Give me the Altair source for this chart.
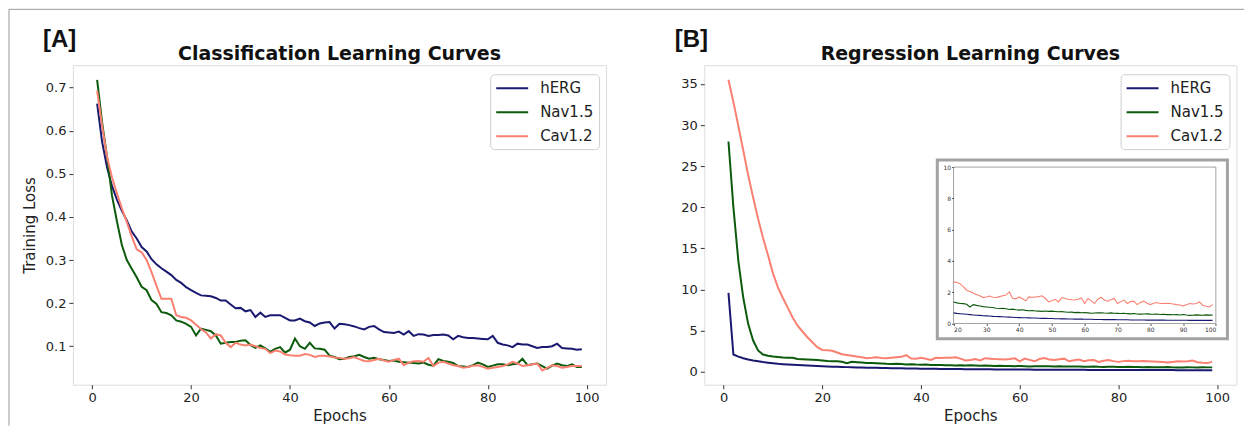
import altair as alt
import pandas as pd

# ---------------- data ----------------
epochs = list(range(1, 100))
series_names = ["hERG", "Nav1.5", "Cav1.2"]

cls_herg = [0.663, 0.575, 0.515, 0.472, 0.440, 0.414, 0.392, 0.366, 0.350, 0.330,
            0.320, 0.302, 0.290, 0.281, 0.273, 0.265, 0.254, 0.247, 0.237, 0.230,
            0.224, 0.218, 0.217, 0.216, 0.212, 0.206, 0.206, 0.197, 0.188, 0.189,
            0.181, 0.184, 0.168, 0.178, 0.168, 0.172, 0.172, 0.172, 0.166, 0.160,
            0.160, 0.164, 0.158, 0.155, 0.147, 0.153, 0.155, 0.156, 0.141, 0.152,
            0.151, 0.149, 0.146, 0.142, 0.139, 0.145, 0.147, 0.139, 0.133, 0.132,
            0.131, 0.134, 0.127, 0.135, 0.124, 0.128, 0.127, 0.124, 0.126, 0.126,
            0.127, 0.125, 0.116, 0.124, 0.121, 0.119, 0.119, 0.118, 0.117, 0.116,
            0.124, 0.108, 0.104, 0.102, 0.098, 0.106, 0.104, 0.104, 0.100, 0.096,
            0.098, 0.098, 0.100, 0.106, 0.096, 0.095, 0.094, 0.092, 0.093]
cls_nav = [0.718, 0.620, 0.540, 0.450, 0.390, 0.335, 0.300, 0.280, 0.260, 0.238,
           0.230, 0.207, 0.198, 0.179, 0.177, 0.172, 0.160, 0.157, 0.152, 0.145,
           0.125, 0.141, 0.138, 0.135, 0.125, 0.106, 0.108, 0.110, 0.110, 0.113,
           0.114, 0.103, 0.096, 0.102, 0.095, 0.087, 0.094, 0.098, 0.085, 0.092,
           0.118, 0.100, 0.094, 0.108, 0.095, 0.094, 0.092, 0.078, 0.075, 0.070,
           0.071, 0.075, 0.077, 0.080, 0.075, 0.071, 0.073, 0.070, 0.068, 0.066,
           0.067, 0.064, 0.063, 0.062, 0.061, 0.060, 0.062, 0.057, 0.055, 0.070,
           0.066, 0.064, 0.061, 0.054, 0.053, 0.052, 0.056, 0.062, 0.058, 0.052,
           0.055, 0.058, 0.058, 0.056, 0.058, 0.060, 0.071, 0.056, 0.058, 0.060,
           0.054, 0.048, 0.055, 0.060, 0.056, 0.054, 0.058, 0.052, 0.052]
cls_cav = [0.693, 0.612, 0.540, 0.492, 0.455, 0.420, 0.388, 0.355, 0.325, 0.318,
           0.300, 0.272, 0.240, 0.210, 0.210, 0.210, 0.172, 0.168, 0.166, 0.160,
           0.150, 0.140, 0.132, 0.118, 0.128, 0.125, 0.108, 0.098, 0.108, 0.104,
           0.102, 0.104, 0.100, 0.096, 0.094, 0.084, 0.090, 0.088, 0.081, 0.079,
           0.078, 0.078, 0.082, 0.080, 0.075, 0.078, 0.078, 0.076, 0.074, 0.073,
           0.071, 0.072, 0.075, 0.070, 0.066, 0.065, 0.068, 0.071, 0.067, 0.064,
           0.068, 0.071, 0.056, 0.062, 0.065, 0.066, 0.064, 0.073, 0.054, 0.062,
           0.064, 0.060, 0.056, 0.054, 0.050, 0.052, 0.055, 0.056, 0.052, 0.048,
           0.050, 0.052, 0.054, 0.058, 0.064, 0.060, 0.054, 0.056, 0.058, 0.060,
           0.044, 0.050, 0.056, 0.054, 0.050, 0.052, 0.054, 0.054, 0.054]

reg_herg = [9.6, 2.1, 1.85, 1.65, 1.5, 1.38, 1.28, 1.18, 1.1, 1.03,
            0.97, 0.93, 0.89, 0.85, 0.82, 0.79, 0.76, 0.74, 0.72, 0.68,
            0.65, 0.63, 0.61, 0.59, 0.57, 0.55, 0.53, 0.52, 0.50, 0.49,
            0.48, 0.46, 0.45, 0.44, 0.43, 0.42, 0.41, 0.40, 0.39, 0.38,
            0.37, 0.37, 0.36, 0.35, 0.35, 0.34, 0.33, 0.33, 0.32, 0.32,
            0.31, 0.31, 0.30, 0.30, 0.29, 0.29, 0.28, 0.28, 0.28, 0.27,
            0.27, 0.27, 0.26, 0.26, 0.26, 0.25, 0.25, 0.25, 0.25, 0.24,
            0.24, 0.24, 0.24, 0.23, 0.23, 0.23, 0.23, 0.23, 0.22, 0.22,
            0.22, 0.22, 0.22, 0.22, 0.21, 0.21, 0.21, 0.21, 0.21, 0.21,
            0.21, 0.20, 0.20, 0.20, 0.20, 0.20, 0.20, 0.20, 0.20]
reg_nav = [28.0, 20.0, 13.5, 9.0, 5.8, 3.8, 2.6, 2.1, 1.95, 1.85,
           1.8, 1.75, 1.72, 1.7, 1.55, 1.52, 1.5, 1.48, 1.45, 1.38,
           1.32, 1.28, 1.27, 1.23, 1.06, 1.21, 1.16, 1.12, 1.08, 1.06,
           1.04, 1.02, 0.98, 0.96, 0.97, 0.94, 0.90, 0.92, 0.88, 0.86,
           0.88, 0.84, 0.82, 0.83, 0.80, 0.79, 0.78, 0.80, 0.78, 0.79,
           0.77, 0.75, 0.76, 0.74, 0.72, 0.73, 0.70, 0.71, 0.69, 0.70,
           0.68, 0.66, 0.67, 0.68, 0.69, 0.67, 0.66, 0.68, 0.66, 0.65,
           0.64, 0.66, 0.63, 0.62, 0.64, 0.61, 0.60, 0.61, 0.62, 0.60,
           0.59, 0.61, 0.58, 0.59, 0.57, 0.58, 0.56, 0.57, 0.55, 0.58,
           0.54, 0.52, 0.53, 0.55, 0.54, 0.53, 0.55, 0.54, 0.54]
reg_cav = [35.5, 32.8, 29.9, 26.9, 23.9, 21.2, 18.6, 16.3, 14.2, 12.0,
           10.3, 9.0, 7.8, 6.6, 5.6, 4.9, 4.2, 3.6, 3.0, 2.66,
           2.62, 2.55, 2.35, 2.13, 2.05, 1.95, 1.85, 1.78, 1.66, 1.70,
           1.76, 1.68, 1.66, 1.72, 1.78, 1.82, 2.02, 1.62, 1.58, 1.70,
           1.58, 1.45, 1.70, 1.68, 1.70, 1.72, 1.77, 1.60, 1.38, 1.45,
           1.55, 1.38, 1.66, 1.60, 1.55, 1.52, 1.50, 1.55, 1.64, 1.28,
           1.60, 1.45, 1.28, 1.55, 1.68, 1.50, 1.43, 1.52, 1.60, 1.28,
           1.40, 1.50, 1.28, 1.40, 1.43, 1.21, 1.35, 1.43, 1.30, 1.21,
           1.30, 1.34, 1.28, 1.28, 1.30, 1.28, 1.25, 1.21, 1.18, 1.13,
           1.20, 1.28, 1.25, 1.28, 1.38, 1.17, 1.10, 1.06, 1.21]

x_ticks = [0, 20, 40, 60, 80, 100]
cls_y_ticks = [0.1, 0.2, 0.3, 0.4, 0.5, 0.6, 0.7]
reg_y_ticks = [0, 5, 10, 15, 20, 25, 30, 35]
inset_x_ticks = [20, 30, 40, 50, 60, 70, 80, 90, 100]
inset_y_ticks = [0, 2, 4, 6, 8, 10]
inset_start_epoch = 20
panel_letters = ["[A]", "[B]"]
panel_titles = ["Classification Learning Curves", "Regression Learning Curves"]
x_label = "Epochs"
y_label = "Training Loss"

# ---------------- styling ----------------
COLORS = {"hERG": "#191970", "Nav1.5": "#0c5a0c", "Cav1.2": "#fa8072"}
FONT = "DejaVu Sans"
W_A, W_B, H = 534, 533, 320
X_DOM = [-3.9, 103.9]
CLS_DOM = [0.0107, 0.752]
REG_DOM = [-1.57, 37.27]


def long_df(h, n, c):
    rows = []
    for name, vals in zip(series_names, [h, n, c]):
        for e, v in zip(epochs, vals):
            rows.append({"epoch": e, "loss": v, "series": name, "col": COLORS[name]})
    return pd.DataFrame(rows)


cls_df = long_df(cls_herg, cls_nav, cls_cav)
reg_df = long_df(reg_herg, reg_nav, reg_cav)
inset_df = reg_df[reg_df["epoch"] >= inset_start_epoch]

color_scale = alt.Scale(domain=series_names, range=[COLORS[s] for s in series_names])


def legend(x):
    return alt.Legend(
        title=None, orient="none", legendX=x, legendY=9,
        fillColor="white", strokeColor="#cfcfcf", cornerRadius=4, padding=5,
        symbolType="M-1,0H3", symbolSize=256, symbolStrokeWidth=2,
        labelFontSize=15, labelFont=FONT, labelColor="#222",
        labelOffset=27, rowPadding=7,
    )


def x_axis():
    return alt.Axis(values=x_ticks, title=x_label, grid=False, domain=False,
                    labelFontSize=13, labelFont=FONT, labelColor="#222",
                    tickColor="#333", tickSize=4, labelPadding=3,
                    titleFontSize=15, titleFont=FONT, titleFontWeight="normal",
                    titleColor="#222", titlePadding=4)


def text_layer(txt, x, y, size, font, align="left", baseline="middle"):
    return alt.Chart(pd.DataFrame({"t": [txt]})).mark_text(
        align=align, baseline=baseline, fontSize=size, font=font,
        fontWeight="bold", color="#111"
    ).encode(text="t:N", x=alt.value(x), y=alt.value(y))


# ---------------- panel A ----------------
lines_a = alt.Chart(cls_df).mark_line(strokeWidth=2, clip=True).encode(
    x=alt.X("epoch:Q", scale=alt.Scale(domain=X_DOM, nice=False, zero=False), axis=x_axis()),
    y=alt.Y("loss:Q", scale=alt.Scale(domain=CLS_DOM, nice=False, zero=False),
            axis=alt.Axis(values=cls_y_ticks, title=y_label, grid=False, domain=False,
                          format=".1f", labelFontSize=13, labelFont=FONT, labelColor="#222",
                          tickColor="#333", tickSize=4, labelPadding=3,
                          titleFontSize=15, titleFont=FONT, titleFontWeight="normal",
                          titleColor="#222", titlePadding=8)),
    color=alt.Color("series:N", scale=color_scale, sort=series_names, legend=legend(418)),
    detail="series:N",
)

border_df = pd.DataFrame({"k": [0]})
frame_top = alt.Chart(border_df).mark_rule(color="#9a9a9a", strokeWidth=1).encode(
    x=alt.value(-64), x2=alt.value(1173), y=alt.value(-56))
frame_left = alt.Chart(border_df).mark_rule(color="#9a9a9a", strokeWidth=1).encode(
    x=alt.value(-64), y=alt.value(-56), y2=alt.value(361))

panel_a = alt.layer(
    frame_top, frame_left, lines_a,
    text_layer(panel_letters[0], -30, -25, 24, "Liberation Sans"),
    text_layer(panel_titles[0], W_A / 2, -5.5, 19, FONT, align="center", baseline="alphabetic"),
).properties(width=W_A, height=H)

# ---------------- panel B ----------------
lines_b = alt.Chart(reg_df).mark_line(strokeWidth=2, clip=True).encode(
    x=alt.X("epoch:Q", scale=alt.Scale(domain=X_DOM, nice=False, zero=False), axis=x_axis()),
    y=alt.Y("loss:Q", scale=alt.Scale(domain=REG_DOM, nice=False, zero=False),
            axis=alt.Axis(values=reg_y_ticks, title=None, grid=False, domain=False,
                          labelFontSize=13, labelFont=FONT, labelColor="#222",
                          tickColor="#333", tickSize=4, labelPadding=3)),
    color=alt.Color("series:N", scale=color_scale, sort=series_names, legend=legend(417)),
    detail="series:N",
)

# inset geometry (pixels inside panel B)
IX0, IX1, IY0, IY1 = 249.7, 512.4, 102, 258.7
inset_box = alt.Chart(border_df).mark_rect(fill="white", stroke="#a3a3a3", strokeWidth=3).encode(
    x=alt.value(233.4), x2=alt.value(524), y=alt.value(95), y2=alt.value(274))

ix = alt.Scale(domain=[20, 100], range=[IX0, IX1], nice=False, zero=False)
iy = alt.Scale(domain=[0, 10], range=[IY1, IY0], nice=False, zero=False)
inset_frame = alt.Chart(border_df).mark_rect(fillOpacity=0, stroke="#8a8a8a", strokeWidth=0.8).encode(
    x=alt.datum(20, scale=ix), x2=alt.datum(100), y=alt.datum(0, scale=iy), y2=alt.datum(10))
inset_lines = alt.Chart(inset_df).mark_line(strokeWidth=1.1).encode(
    x=alt.X("epoch:Q", scale=ix,
            axis=alt.Axis(orient="bottom", offset=-(H - IY1), values=inset_x_ticks, title=None,
                          grid=False, domain=False, labelFontSize=6, labelFont=FONT,
                          labelColor="#333", tickSize=2, tickColor="#555", labelPadding=1,
                          zindex=2)),
    y=alt.Y("loss:Q", scale=iy,
            axis=alt.Axis(orient="left", offset=-IX0, values=inset_y_ticks, title=None,
                          grid=False, domain=False, labelFontSize=6, labelFont=FONT,
                          labelColor="#333", tickSize=2, tickColor="#555", labelPadding=1,
                          zindex=2)),
    stroke=alt.Stroke("col:N", scale=None),
    detail="series:N",
)
inset = alt.layer(inset_frame, inset_lines)

panel_b = alt.layer(
    lines_b, inset_box, inset,
    text_layer(panel_letters[1], -29.5, -25, 24, "Liberation Sans"),
    text_layer(panel_titles[1], W_B / 2, -5.5, 19, FONT, align="center", baseline="alphabetic"),
).resolve_scale(x="independent", y="independent").properties(width=W_B, height=H)

chart = alt.hconcat(panel_a, panel_b, spacing=98.4, bounds="flush").resolve_scale(
    color="independent").resolve_legend(color="independent").properties(
    padding={"left": 0, "top": 0, "right": 0, "bottom": 0}
).configure_view(stroke="#808080", strokeWidth=1.3).configure(background="white")

chart.save("out.html", embed_options={"renderer": "svg", "actions": False})
